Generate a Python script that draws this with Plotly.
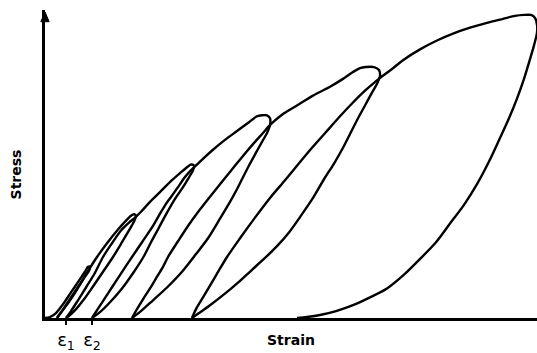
import plotly.graph_objects as go

# Cyclic stress-strain record (arbitrary units: strain 0..492, stress 0..313)
# Each cycle: reload from previous residual strain -> peak -> unload to new residual strain
cycle0_strain = [0, 5, 11, 18, 26, 34, 40, 43, 45, 44, 40, 35, 29, 23, 17, 14, 12]
cycle0_stress = [0, 1, 5, 14, 26, 38, 47, 52, 52, 48, 42, 34, 24, 15, 7, 3, 0]

cycle1_strain = [12, 17, 24, 32, 39, 45, 52, 62, 73, 81, 86, 89, 91, 89, 84, 77, 68, 58, 48, 39, 31, 25, 21]
cycle1_stress = [0, 7, 18, 30, 41, 51, 62, 76, 90, 99, 104, 105.5, 104, 98, 89, 77, 62, 47, 32, 19, 9, 3, 0]

cycle2_strain = [21, 26, 33, 41, 50, 58, 67, 76, 84, 90, 96, 105, 115, 127, 137, 143, 146, 149, 148, 144,
                 138, 130, 122, 114, 106, 99, 89, 77, 65, 55, 47]
cycle2_stress = [0, 7, 18, 31, 46, 62, 76, 89, 97, 102, 108, 118, 128, 140, 149, 154, 156, 155, 150, 143,
                 133, 121, 107, 92, 77, 63, 47, 30, 16, 6, 0]

cycle3_strain = [47, 54, 63, 72, 81, 87, 97, 107, 115, 121, 126, 133, 139, 144, 149, 155, 168, 180, 192, 204,
                 212, 217, 222, 225, 225, 222, 217, 211, 204, 197, 191, 185, 175, 163, 151, 137, 122, 108, 96, 87]
cycle3_stress = [0, 11, 25, 39, 53, 62, 77, 92, 106, 116, 123, 133, 142, 148, 153, 159, 171, 181, 190, 199,
                 205, 206, 206, 203, 196, 188, 179, 168, 155, 141, 129, 118, 101, 81, 65, 47, 31, 18, 7, 0]

cycle4_strain = [87, 92, 98, 105, 112, 118, 123, 133, 144, 154, 164, 175, 187, 199, 210, 218, 223, 227, 239, 252,
                 268, 285, 298, 308, 315, 321, 329, 334, 335, 332, 327, 320, 312, 305, 298, 289, 279, 268,
                 256, 244, 232, 220, 207, 193, 179, 165, 154, 147]
cycle4_stress = [0, 9, 19, 30, 42, 52, 62, 78, 95, 109, 122, 136, 151, 166, 179, 188, 194, 198, 208, 216,
                 226, 235, 243, 250, 254, 255, 255, 252, 246, 238, 229, 216, 201, 187, 173, 157, 141, 122,
                 104, 87, 73, 61, 49, 36, 24, 13, 5, 0]

cycle5_strain = [147, 152, 158, 165, 172, 182, 195, 210, 225, 240, 253, 267, 281, 295, 308, 320, 329, 335, 347,
                 358, 375, 392, 408, 425, 442, 458, 470, 479, 486, 490, 492, 492, 489, 485, 479, 472, 464,
                 455, 444, 432, 419, 405, 391, 375, 359, 342, 325, 308, 291, 275, 262, 252]
cycle5_stress = [0, 11, 21, 33, 45, 62, 81, 102, 122, 140, 156, 173, 189, 205, 219, 231, 239, 244, 253,
                 262, 273, 282, 289, 295, 300, 304, 307, 308, 308, 305, 298, 290, 277, 263, 243, 223, 203,
                 183, 159, 136, 115, 96, 77, 60, 44, 30, 21, 13, 7, 3, 1, 0]

residual_ticks = [21, 47]
residual_labels = ["ε<sub>1</sub>", "ε<sub>2</sub>"]

cycles = [
    (cycle0_strain, cycle0_stress),
    (cycle1_strain, cycle1_stress),
    (cycle2_strain, cycle2_stress),
    (cycle3_strain, cycle3_stress),
    (cycle4_strain, cycle4_stress),
    (cycle5_strain, cycle5_stress),
]

fig = go.Figure()
for sx, sy in cycles:
    fig.add_trace(go.Scatter(
        x=sx, y=sy, mode="lines",
        line=dict(color="black", width=2.4, shape="spline", smoothing=0.8),
        hoverinfo="skip", showlegend=False,
    ))

fig.update_layout(
    width=537, height=353,
    margin=dict(l=45, r=0, t=10, b=30),
    paper_bgcolor="white", plot_bgcolor="white",
    showlegend=False,
    xaxis=dict(
        range=[0, 492], showgrid=False, zeroline=False,
        showline=True, linecolor="black", linewidth=2.5,
        tickvals=residual_ticks, ticktext=residual_labels,
        ticks="outside", ticklen=4, tickwidth=2, tickcolor="black",
        tickfont=dict(family="DejaVu Sans", size=18, color="black"),
    ),
    yaxis=dict(
        range=[0, 313], showgrid=False, zeroline=False,
        showline=True, linecolor="black", linewidth=2.5,
        showticklabels=False, ticks="",
    ),
    shapes=[
        dict(type="path", xref="paper", yref="paper",
             path="M -0.0085,0.962 L 0,0.9936 L 0.0085,0.962 Z",
             fillcolor="black", line=dict(color="black", width=1)),
    ],
    annotations=[
        dict(x=0.5, y=-0.07, xref="paper", yref="paper", text="<b>Strain</b>",
             showarrow=False, xanchor="center", yanchor="middle",
             font=dict(family="DejaVu Sans", size=14, color="black")),
        dict(x=-0.057, y=0.466, xref="paper", yref="paper", text="<b>Stress</b>",
             showarrow=False, textangle=-90, xanchor="center", yanchor="middle",
             font=dict(family="DejaVu Sans", size=14, color="black")),
    ],
)

fig.write_html("out.html")
